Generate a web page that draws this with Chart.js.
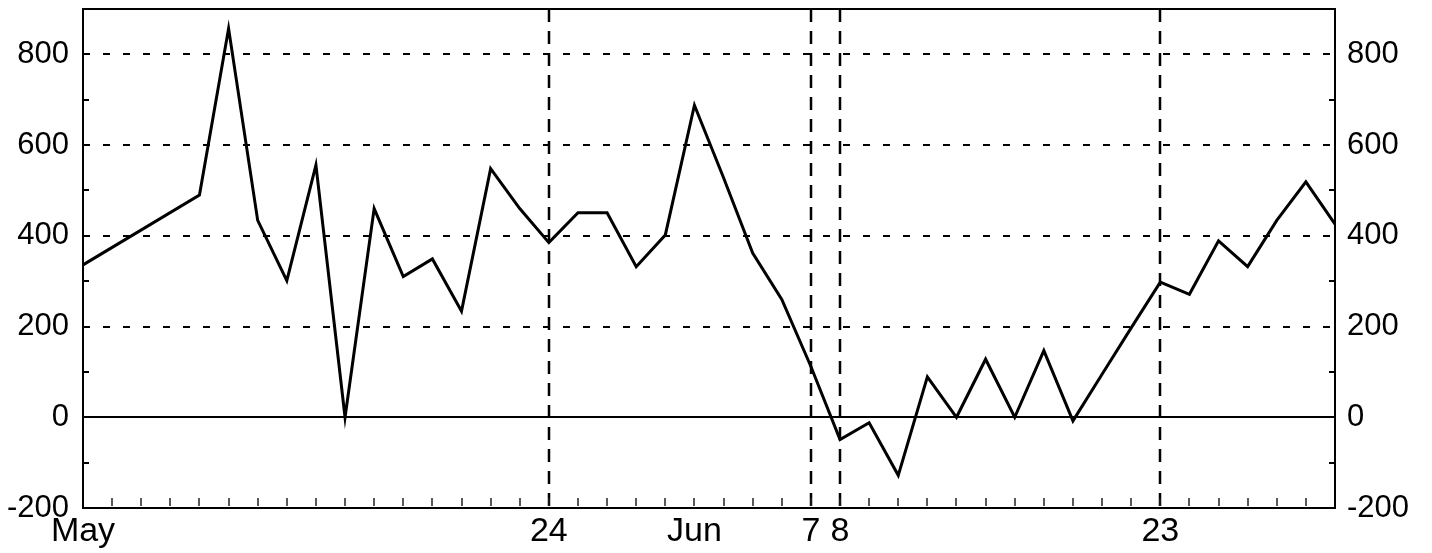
<!DOCTYPE html>
<html>
<head>
<meta charset="utf-8">
<script src="https://cdn.jsdelivr.net/npm/chart.js@4.4.0/dist/chart.umd.min.js"></script>
<style>
  html, body { margin: 0; padding: 0; background: #fff; }
</style>
</head>
<body>
<canvas id="grafico" width="1432" height="553"></canvas>
<script>
// valores diarios (dias de pregao)
const values = [
  336, null, null, null, 490, 857, 434, 301, 556, 0,
  460, 310, 349, 234, 548, 460, 385, 451, 451, 332,
  402, 688, 528, 362, 260, 112, -49, -12, -128, 89,
  0, 128, 0, 147, -8, 95, 197, 298, 271, 389,
  332, 434, 519, 426
];

// rotulos do eixo x (indice do dia -> texto)
const labelAt = [0, 16, 21, 25, 26, 37];
const labelText = ['May', '24', 'Jun', '7', '8', '23'];

// linhas verticais tracejadas
const markerDays = [16, 25, 26, 37];

// eixo y
const yTickValues = [-200, 0, 200, 400, 600, 800];
const gridValues = [200, 400, 600, 800];
const minorValues = [-100, 100, 300, 500, 700];
const yMin = -200;
const yMax = 900;

const categories = values.map((_, i) => {
  const k = labelAt.indexOf(i);
  return k >= 0 ? labelText[k] : '';
});

const familia = "'Liberation Sans', Arial, Helvetica, sans-serif";

function line(ctx, x1, y1, x2, y2) {
  ctx.beginPath();
  ctx.moveTo(x1, y1);
  ctx.lineTo(x2, y2);
  ctx.stroke();
}

const gradePlugin = {
  id: 'grade',
  beforeDatasetsDraw(chart) {
    const { ctx, chartArea: a, scales } = chart;
    const x = scales.x;
    const y = scales.y;
    ctx.save();
    ctx.strokeStyle = '#000';

    // grade horizontal tracejada
    ctx.lineWidth = 2;
    ctx.setLineDash([7, 13]);
    gridValues.forEach((v) => {
      const py = Math.round(y.getPixelForValue(v));
      line(ctx, a.left, py, a.right, py);
    });

    // linhas verticais nas datas marcadas
    ctx.lineWidth = 2.5;
    ctx.setLineDash([13, 9]);
    markerDays.forEach((d) => {
      const px = Math.round(x.getPixelForValue(d));
      line(ctx, px, a.top, px, a.bottom);
    });

    ctx.setLineDash([]);

    // linha do zero
    ctx.lineWidth = 2;
    const zero = Math.round(y.getPixelForValue(0));
    line(ctx, a.left, zero, a.right, zero);

    // marcas menores no eixo y (esquerda e direita)
    minorValues.forEach((v) => {
      const py = Math.round(y.getPixelForValue(v));
      line(ctx, a.left, py, a.left + 6, py);
      line(ctx, a.right - 6, py, a.right, py);
    });

    // marcas de cada dia no eixo x
    ctx.lineWidth = 1.5;
    ctx.strokeStyle = '#222';
    values.forEach((_, i) => {
      const px = Math.round(x.getPixelForValue(i));
      line(ctx, px, a.bottom - 10, px, a.bottom - 2);
    });
    ctx.restore();
  },
  afterDatasetsDraw(chart) {
    const { ctx, chartArea: a } = chart;
    ctx.save();
    ctx.strokeStyle = '#000';
    ctx.lineWidth = 2;
    ctx.strokeRect(a.left, a.top, a.right - a.left, a.bottom - a.top);
    ctx.restore();
  },
};

function yAxis(position, width, padding) {
  return {
    type: 'linear',
    position,
    min: yMin,
    max: yMax,
    afterBuildTicks: (scale) => {
      scale.ticks = yTickValues.map((v) => ({ value: v }));
    },
    afterFit: (scale) => {
      scale.width = width;
      scale.paddingTop = 0;
      scale.paddingBottom = 0;
    },
    grid: { display: false, drawTicks: false },
    border: { display: false },
    ticks: {
      color: '#000',
      font: { family: familia, size: 31 },
      padding,
      callback: (v) => String(v),
    },
  };
}

new Chart(document.getElementById('grafico'), {
  type: 'line',
  data: {
    labels: categories,
    datasets: [
      {
        data: values,
        borderColor: '#000',
        borderWidth: 3,
        pointRadius: 0,
        tension: 0,
        spanGaps: true,
        fill: false,
      },
    ],
  },
  options: {
    responsive: false,
    animation: false,
    devicePixelRatio: 1,
    layout: { padding: { top: 9, left: 0, right: 0, bottom: 0 } },
    plugins: { legend: { display: false }, tooltip: { enabled: false } },
    scales: {
      x: {
        type: 'category',
        offset: false,
        afterFit: (scale) => {
          scale.height = 45;
          scale.paddingLeft = 0;
          scale.paddingRight = 0;
        },
        grid: { display: false, drawTicks: false },
        border: { display: false },
        ticks: {
          autoSkip: false,
          maxRotation: 0,
          minRotation: 0,
          color: '#000',
          font: { family: familia, size: 34 },
          padding: 3,
          callback: (v, i) => categories[i],
        },
      },
      y: yAxis('left', 83, 14),
      y2: yAxis('right', 97, 12),
    },
  },
  plugins: [gradePlugin],
});
</script>
</body>
</html>
